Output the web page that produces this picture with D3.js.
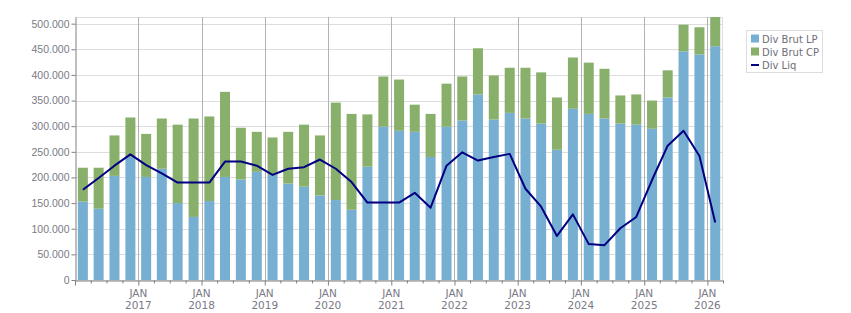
<!DOCTYPE html>
<html>
<head>
<meta charset="utf-8">
<script src="https://cdn.jsdelivr.net/npm/d3@7"></script>
<style>
  body { margin: 0; background: #fff; }
  svg { display: block; font-family: "DejaVu Sans", sans-serif; }
</style>
</head>
<body>
<svg id="chart"></svg>
<script>
// quarters (start month of each bar)
var quarters = [
  "2016-01","2016-04","2016-07","2016-10",
  "2017-01","2017-04","2017-07","2017-10",
  "2018-01","2018-04","2018-07","2018-10",
  "2019-01","2019-04","2019-07","2019-10",
  "2020-01","2020-04","2020-07","2020-10",
  "2021-01","2021-04","2021-07","2021-10",
  "2022-01","2022-04","2022-07","2022-10",
  "2023-01","2023-04","2023-07","2023-10",
  "2024-01","2024-04","2024-07","2024-10",
  "2025-01","2025-04","2025-07","2025-10",
  "2026-01"
]
var divBrutLP = [
  153000,139000,203000,240000, 201000,217000,150000,123000,
  154000,201000,196000,211000, 205000,188000,182000,165000,
  156000,137000,221000,299000, 291000,289000,240000,299000,
  311000,362000,313000,326000, 315000,305000,254000,334000,
  324000,315000,305000,303000, 295000,356000,446000,440000,
  456000
]
var divBrutCP = [
  66000,80000,79000,77000, 84000,98000,153000,192000,
  165000,166000,101000,78000, 73000,101000,121000,117000,
  190000,187000,102000,98000, 100000,53000,84000,84000,
  86000,90000,86000,88000, 99000,100000,102000,100000,
  100000,97000,55000,59000, 55000,53000,52000,53000,
  57000
]
var divLiq = [
  176000,199000,223000,245000, 224000,208000,190000,190000,
  190000,231000,231000,223000, 205000,217000,220000,235000,
  217000,191000,151000,151000, 151000,170000,141000,223000,
  249000,233000,240000,246000, 178000,143000,86000,128000,
  70000,68000,101000,123000, 195000,262000,291000,242000,
  112000
]
var yTicks = [0,50000,100000,150000,200000,250000,300000,350000,400000,450000,500000]
var seriesNames = ["Div Brut LP","Div Brut CP","Div Liq"]

var dimensions = {
  width: 851,
  height: 313,
  margin: { top: 17, bottom: 33, left: 75, right: 128 }
}
var colors = { lp: "#77afd3", cp: "#89b06b", liq: "#000080" }

var svg = d3.select("#chart")
  .attr("width", dimensions.width)
  .attr("height", dimensions.height)

var parse = d3.timeParse("%Y-%m")
var data = quarters.map(function(q, i) {
  var start = parse(q)
  return { start: start, end: d3.timeMonth.offset(start, 3), lp: divBrutLP[i], cp: divBrutCP[i], liq: divLiq[i] }
})

var x0 = dimensions.margin.left
var x1 = dimensions.width - dimensions.margin.right
var yBottom = dimensions.height - dimensions.margin.bottom

var xScale = d3.scaleTime()
  .domain([data[0].start, data[data.length - 1].end])
  .range([x0, x1])

var yScale = d3.scaleLinear()
  .domain([0, d3.max(data, d => d.lp + d.cp)])
  .range([yBottom, dimensions.margin.top])

var mid = d => (xScale(d.start) + xScale(d.end)) / 2

var locale = d3.formatLocale({ decimal: ",", thousands: ".", grouping: [3], currency: ["", "€"] })
var fmt = locale.format(",d")

// horizontal grid
svg.append("g")
  .selectAll("line")
  .data(yTicks)
  .join("line")
  .attr("x1", x0).attr("x2", x1)
  .attr("y1", d => Math.round(yScale(d)) + 0.5)
  .attr("y2", d => Math.round(yScale(d)) + 0.5)
  .attr("stroke", "#dddddd")

// frame top / right
svg.append("path")
  .attr("d", `M${x0},${dimensions.margin.top + 0.5}H${x1 - 0.5}V${yBottom}`)
  .attr("fill", "none")
  .attr("stroke", "#dddddd")

// vertical year lines
var years = d3.timeYear.range(d3.timeYear.offset(data[0].start, 1), data[data.length - 1].end)
svg.append("g")
  .selectAll("line")
  .data(years)
  .join("line")
  .attr("x1", d => Math.round(xScale(d)) + 0.5)
  .attr("x2", d => Math.round(xScale(d)) + 0.5)
  .attr("y1", dimensions.margin.top)
  .attr("y2", yBottom)
  .attr("stroke", "#b2b2b2")

// stacked bars
var barW = 10
var bars = svg.append("g")
bars.selectAll(".lp")
  .data(data)
  .join("rect")
  .attr("class", "lp")
  .attr("x", d => mid(d) - barW / 2)
  .attr("width", barW)
  .attr("y", d => yScale(d.lp))
  .attr("height", d => yScale(0) - yScale(d.lp))
  .attr("fill", colors.lp)
bars.selectAll(".cp")
  .data(data)
  .join("rect")
  .attr("class", "cp")
  .attr("x", d => mid(d) - barW / 2)
  .attr("width", barW)
  .attr("y", d => yScale(d.lp + d.cp))
  .attr("height", d => yScale(d.lp) - yScale(d.lp + d.cp))
  .attr("fill", colors.cp)

// line
svg.append("path")
  .datum(data)
  .attr("fill", "none")
  .attr("stroke", colors.liq)
  .attr("stroke-width", 2)
  .attr("stroke-linejoin", "round")
  .attr("d", d3.line().x(mid).y(d => yScale(d.liq)))

// y axis
var yAxis = svg.append("g")
  .attr("transform", `translate(${x0 + 0.5},0)`)
  .call(d3.axisLeft(yScale).tickValues(yTicks).tickFormat(fmt).tickSize(4).tickSizeOuter(0))
yAxis.select(".domain").attr("stroke", "#808080")
yAxis.selectAll(".tick line").attr("stroke", "#808080")
yAxis.selectAll("text")
  .attr("fill", "#7a7a86")
  .style("font-size", "10.5px")
  .attr("x", -6)

// x axis (quarterly ticks, labels at January)
var quarterTicks = d3.timeMonth.every(3).range(data[0].start, d3.timeDay.offset(data[data.length - 1].end, 1))
var xAxis = svg.append("g")
  .attr("transform", `translate(0,${yBottom + 0.5})`)
  .call(d3.axisBottom(xScale).tickValues(quarterTicks).tickFormat("").tickSize(3).tickSizeOuter(0))
xAxis.select(".domain").attr("stroke", "#808080")
xAxis.selectAll(".tick line")
  .attr("stroke", "#808080")
  .attr("y2", d => d.getMonth() === 0 ? 5 : 3)

var yearLabels = svg.append("g")
  .selectAll("text")
  .data(years)
  .join("text")
  .attr("x", d => xScale(d))
  .attr("text-anchor", "middle")
  .attr("fill", "#7a7a86")
  .style("font-size", "10.5px")
yearLabels.append("tspan").attr("x", d => xScale(d)).attr("y", yBottom + 17).text("JAN")
yearLabels.append("tspan").attr("x", d => xScale(d)).attr("y", yBottom + 29).text(d => d.getFullYear())

// legend
var legend = svg.append("g").attr("transform", "translate(746.5,30.5)")
legend.append("rect")
  .attr("width", 76).attr("height", 42)
  .attr("fill", "#fff").attr("stroke", "#dddddd")
var items = legend.selectAll("g")
  .data(seriesNames)
  .join("g")
  .attr("transform", (d, i) => `translate(4.5,${8.5 + i * 13})`)
items.each(function(d, i) {
  var g = d3.select(this)
  if (i < 2) {
    g.append("rect").attr("x", 0).attr("y", -4.5).attr("width", 8).attr("height", 8)
      .attr("fill", i === 0 ? colors.lp : colors.cp)
  } else {
    g.append("line").attr("x1", 0).attr("x2", 8).attr("y1", 0).attr("y2", 0)
      .attr("stroke", colors.liq).attr("stroke-width", 2)
  }
  g.append("text").attr("x", 11).attr("y", 4).text(d)
    .attr("fill", "#6e6e78").style("font-size", "10px")
})
</script>
</body>
</html>
